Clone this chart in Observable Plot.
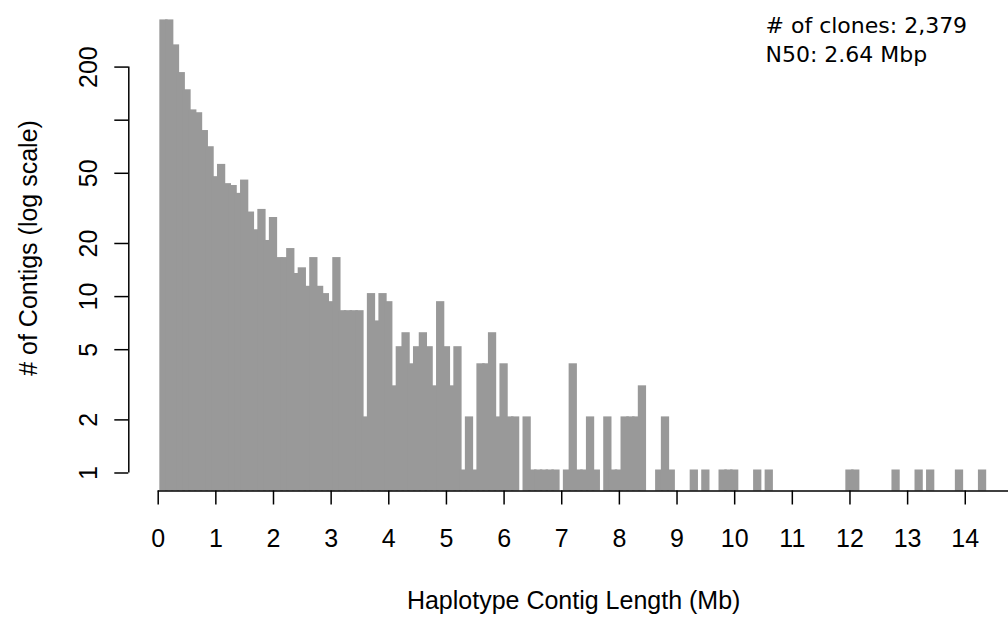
<!DOCTYPE html>
<html>
<head>
<meta charset="utf-8">
<script src="https://cdn.jsdelivr.net/npm/d3@7"></script>
<script src="https://cdn.jsdelivr.net/npm/@observablehq/plot@0.6"></script>
<style>
  html, body { margin: 0; padding: 0; background: #fff; overflow: hidden; }
  #chart { width: 1008px; height: 617px; }
</style>
</head>
<body>
<div id="chart"></div>
<script>
// Histogram of haplotype contig lengths, 0.1 Mb bins, counts on a log axis.
const binStartMb = 0.05;   // left edge of the first bin (bins are centred on 0.1, 0.2, ...)
const binWidthMb = 0.1;
const contigCounts = [
  356, 356, 257, 179, 143, 110, 106, 84, 68, 46, 54, 42, 41, 37, 44,
  29, 23, 30, 20, 27, 16, 16, 18, 13, 14, 11, 16, 11, 10, 9, 16,
  8, 8, 8, 8, 2, 10, 7, 10, 9, 3, 5, 6, 4, 5, 6, 5, 3, 9, 5, 3, 5,
  1, 2, 1, 4, 4, 6, 2, 4, 2, 2, 0, 2, 1, 1, 1, 1, 1, 0, 1, 4, 1, 1, 2, 1, 0, 2, 1, 1, 2, 2, 2, 3,
  0, 0, 1, 2, 1, 0, 0, 0, 1, 0, 1, 0, 0, 1, 1, 1, 0, 0, 0, 1, 0, 1,
  0, 0, 0, 0, 0, 0, 0, 0, 0, 0, 0, 0, 0,
  1, 1,
  0, 0, 0, 0, 0, 0,
  1, 0, 0, 0, 1, 0, 1, 0, 0, 0, 0, 1, 0, 0, 0, 1
];

const xTicks = [0, 1, 2, 3, 4, 5, 6, 7, 8, 9, 10, 11, 12, 13, 14];
const yTicks = [1, 2, 5, 10, 20, 50, 100, 200];
const yTickLabels = ["1", "2", "5", "10", "20", "50", "", "200"];
const xTitle = "Haplotype Contig Length (Mb)";
const yTitle = "# of Contigs (log scale)";
const summaryLines = ["# of clones: 2,379", "N50: 2.64 Mbp"];

const bins = contigCounts
  .map((n, i) => ({lo: binStartMb + i * binWidthMb, hi: binStartMb + (i + 1) * binWidthMb, n}))
  .filter(d => d.n > 0);

// y limits padded 4% on the log scale, like base R graphics
const L = Math.log10(d3.max(contigCounts));
const yLo = 10 ** (-0.04 * L);
const yHi = 10 ** (1.04 * L);
const xLimits = [-0.51, 14.75];

const barColor = "#999999";
const rFont = "'Liberation Sans', Arial, Helvetica, sans-serif";
const fs = 25;

const chart = Plot.plot({
  width: 1008,
  height: 617,
  marginTop: 4.4,
  marginBottom: 126.5,
  marginLeft: 128.3,
  marginRight: 0,
  style: {fontFamily: rFont, background: "#fff", color: "#000"},
  x: {domain: xLimits},
  y: {type: "log", domain: [yLo, yHi]},
  marks: [
    Plot.rectY(bins, {
      x1: "lo", x2: "hi", y1: yLo, y2: "n",
      fill: barColor,
      insetLeft: -1.25, insetRight: -1.25, insetTop: -3
    }),
    // y axis
    Plot.ruleX([xLimits[0]], {y1: yTicks[0], y2: yTicks[yTicks.length - 1], stroke: "#000", strokeWidth: 1.5}),
    Plot.axisY(yTicks, {tickSize: 14, tickFormat: () => "", label: null, stroke: "#000", strokeWidth: 1.5}),
    Plot.text(yTicks, {
      y: d => d, text: (d, i) => yTickLabels[i],
      frameAnchor: "left", dx: -40, rotate: -90,
      textAnchor: "middle", lineAnchor: "middle",
      fontSize: fs, fill: "#000"
    }),
    Plot.text([yTitle], {
      frameAnchor: "left", dx: -100, rotate: -90,
      textAnchor: "middle", lineAnchor: "middle",
      fontSize: fs, fill: "#000"
    }),
    // x axis
    Plot.ruleY([yLo], {x1: xTicks[0], x2: xLimits[1], stroke: "#000", strokeWidth: 1.5}),
    Plot.axisX(xTicks, {tickSize: 14, tickPadding: 24, fontSize: fs, label: null, stroke: "#000", strokeWidth: 1.5}),
    Plot.text([xTitle], {
      frameAnchor: "bottom", dx: 5, dy: 110,
      textAnchor: "middle", lineAnchor: "middle",
      fontSize: fs, fill: "#000"
    }),
    // summary annotation
    Plot.text([summaryLines.join("\n")], {
      frameAnchor: "top-right", dx: -243, dy: 8.3,
      textAnchor: "start", lineAnchor: "top", lineHeight: 1.29,
      fontSize: 22, fontFamily: "'DejaVu Sans', sans-serif", fill: "#000"
    })
  ]
});

document.getElementById("chart").appendChild(chart);
</script>
</body>
</html>
